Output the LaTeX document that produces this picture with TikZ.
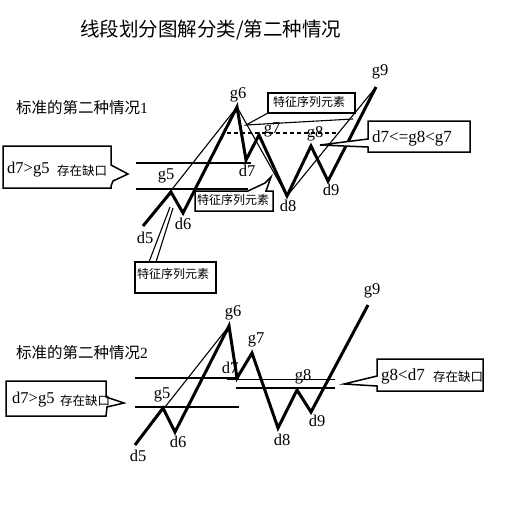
\documentclass[tikz,border=0pt]{standalone}
\usepackage{fontspec}
\setmainfont{Liberation Serif}
\newfontfamily\cjk{Noto Sans CJK SC}
\begin{document}
\begin{tikzpicture}[x=1pt,y=-1pt,
  thk/.style={line width=3pt,line join=miter,miter limit=20},
  thn/.style={line width=1.1pt},
  hln/.style={line width=1.8pt},
  boxln/.style={line width=1.5pt,fill=white},
  tailln/.style={line width=1.1pt},
  lbl/.style={inner sep=0pt,font=\fontsize{16.5}{17}\selectfont},
  cjkl/.style={inner sep=0pt,anchor=west,font=\cjk\fontsize{12}{13}\selectfont},
  txt/.style={inner sep=0pt,anchor=west}]
\useasboundingbox (0,0) rectangle (510,509);
\fill[white] (0,0) rectangle (510,509);

% title
\node[txt,font=\cjk\fontsize{19.5}{20}\selectfont] (title) at (80,30) {线段划分图解分类/第二种情况};

% ================= TOP DIAGRAM =================
\node[txt,font=\fontsize{15.5}{16}\selectfont] (sub1) at (16,108) {{\cjk 标准的第二种情况}1};

\coordinate (ad5) at (143,226);
\coordinate (ag5) at (171,192);
\coordinate (ad6) at (183,213);
\coordinate (ag6) at (237,107);
\coordinate (ad7) at (246,160);
\coordinate (ag7) at (259,135);
\coordinate (ad8) at (287,196);
\coordinate (ag8) at (311,146);
\coordinate (ad9) at (328,181);
\coordinate (ag9) at (376,87);

% horizontal lines
\coordinate (ah1a) at (136,163); \coordinate (ah1b) at (251,163);
\coordinate (ah2a) at (136,189); \coordinate (ah2b) at (248,189);
\draw[hln] (ah1a) -- (ah1b);
\draw[hln] (ah2a) -- (ah2b);
% dashed line
\coordinate (adsa) at (227,133); \coordinate (adsb) at (336,133);
\draw[line width=1.5pt,dash pattern=on 4pt off 3pt] (adsa) -- (adsb);

% thin lines
\draw[thn] (ad5) -- (ag6);
\draw[thn] (ag6) -- (ad8);
\draw[thn] (ad8) -- (ag9);
% thick zigzag
\draw[thk] (ad5) -- (ag5) -- (ad6) -- (ag6) -- (ad7) -- (ag7) -- (ad8) -- (ag8) -- (ad9) -- (ag9);

% labels
\node[lbl] (lag9) at (380,72) {g9};
\node[lbl] (lag6) at (238,95) {g6};
\node[lbl] (lag7) at (272,130) {g7};
\node[lbl] (lag8) at (315,134) {g8};
\node[lbl] (lad7) at (247,171) {d7};
\node[lbl] (lag5) at (166,176) {g5};
\node[lbl] (lad6) at (183,224) {d6};
\node[lbl] (lad5) at (145,238) {d5};
\node[lbl] (lad8) at (288,206) {d8};
\node[lbl] (lad9) at (331,190) {d9};

% callout: d7>g5 存在缺口
\draw[boxln] (3,146) -- (111,146) -- (111,165) -- (128,174) -- (113,181) -- (111,186) -- (111,188) -- (3,188) -- cycle;
\node[txt,font=\fontsize{16.5}{17}\selectfont] (ac1) at (7,170) {d7>g5};
\node[cjkl,font=\cjk\fontsize{12.5}{13}\selectfont] (ac1b) at (57,171) {存在缺口};

% callout near g6
\coordinate (at1tip) at (246,125);
\coordinate (at1end) at (353,119);
\draw[boxln] (268,93) rectangle (355,113);
\draw[tailln] (268,113) -- (at1tip) -- (at1end);
\node[cjkl] (ac2) at (273,102) {特征序列元素};

% callout middle
\draw[boxln] (195,191) -- (248,191) -- (265,183) -- (271,177) -- (266,191) -- (273,191) -- (273,211) -- (195,211) -- cycle;
\node[cjkl] (ac3) at (197,200) {特征序列元素};

% callout lower-left
\coordinate (at4a) at (170,207);
\coordinate (at4b) at (173,208);
\draw[tailln] (149,262) -- (at4a);
\draw[tailln] (156,262) -- (at4b);
\draw[boxln] (135,262) rectangle (216,293);
\node[cjkl] (ac4) at (137,274) {特征序列元素};

% callout d7<=g8<g7
\draw[boxln] (368,121) -- (470,121) -- (470,152) -- (368,152) -- (368,147) -- (320,145) -- (368,139) -- cycle;
\node[txt,font=\fontsize{17}{17}\selectfont] (ac5) at (372,138) {d7<=g8<g7};

% ================= BOTTOM DIAGRAM =================
\node[txt,font=\fontsize{15.5}{16}\selectfont] (sub2) at (16,353) {{\cjk 标准的第二种情况}2};

\coordinate (bd5) at (135,445);
\coordinate (bg5) at (163,408);
\coordinate (bd6) at (175,432);
\coordinate (bg6) at (229,326);
\coordinate (bd7) at (237,378);
\coordinate (bg7) at (252,353);
\coordinate (bd8) at (278,428);
\coordinate (bg8) at (297,390);
\coordinate (bd9) at (311,412);
\coordinate (bg9) at (368,305);

\coordinate (bh1a) at (135,378); \coordinate (bh1b) at (239,378);
\coordinate (bh2a) at (227,379.5); \coordinate (bh2b) at (335,379.5);
\coordinate (bh3a) at (135,407); \coordinate (bh3b) at (239,407);
\coordinate (bh4a) at (236,388); \coordinate (bh4b) at (335,388);
\draw[hln] (bh1a) -- (bh1b);
\draw[hln] (bh2a) -- (bh2b);
\draw[hln] (bh3a) -- (bh3b);
\draw[hln] (bh4a) -- (bh4b);

\draw[thn] (bd5) -- (bg6);
\draw[thk] (bd5) -- (bg5) -- (bd6) -- (bg6) -- (bd7) -- (bg7) -- (bd8) -- (bg8) -- (bd9) -- (bg9);

\node[lbl] (lbg9) at (372,291) {g9};
\node[lbl] (lbg6) at (233,313) {g6};
\node[lbl] (lbg7) at (256,340) {g7};
\node[lbl] (lbd7) at (230,368) {d7};
\node[lbl] (lbg8) at (303,377) {g8};
\node[lbl] (lbg5) at (162,395) {g5};
\node[lbl] (lbd6) at (178,442) {d6};
\node[lbl] (lbd5) at (138,456) {d5};
\node[lbl] (lbd8) at (282,440) {d8};
\node[lbl] (lbd9) at (317,421) {d9};

% callout d7>g5存在缺口
\draw[boxln] (6,381) -- (106,381) -- (106,397) -- (124,403) -- (107,407) -- (106,416) -- (6,416) -- cycle;
\node[txt,font=\fontsize{16.5}{17}\selectfont] (bc1) at (12,400) {d7>g5};
\node[cjkl,font=\cjk\fontsize{12.5}{13}\selectfont] (bc1b) at (60,401) {存在缺口};

% callout g8<d7 存在缺口
\draw[boxln] (377,359) -- (483,359) -- (483,391) -- (377,391) -- (377,386) -- (344,384) -- (377,376) -- cycle;
\node[txt,font=\fontsize{17}{17}\selectfont] (bc2) at (381,376) {g8<d7};
\node[cjkl,font=\cjk\fontsize{12.5}{13}\selectfont] (bc2b) at (433,377) {存在缺口};

\end{tikzpicture}
\end{document}
